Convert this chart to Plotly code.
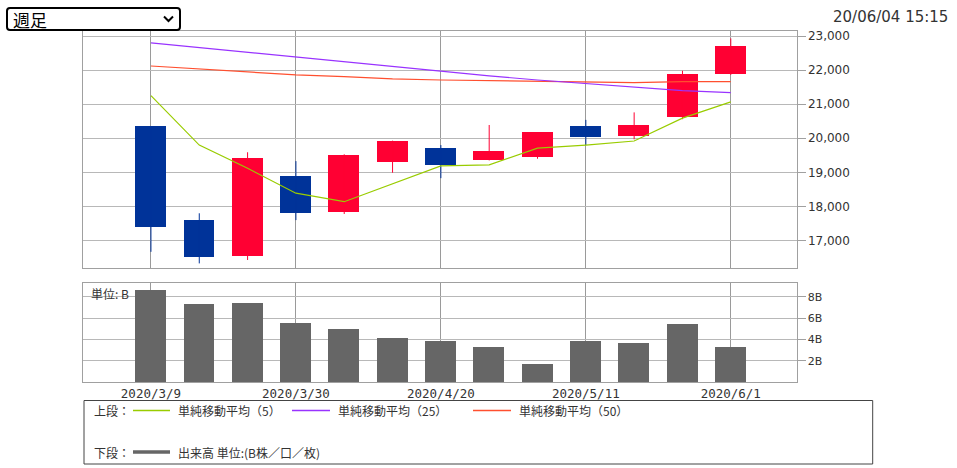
import plotly.graph_objects as go

W, H = 957, 468

# ---------------- data ----------------
weeks = ["2020/3/9", "2020/3/16", "2020/3/23", "2020/3/30", "2020/4/6", "2020/4/13",
         "2020/4/20", "2020/4/27", "2020/5/4", "2020/5/11", "2020/5/18", "2020/5/25", "2020/6/1"]
opens  = [20350, 17600, 16550, 18890, 17830, 19300, 19710, 19360, 19440, 20350, 20070, 20620, 21900]
highs  = [20350, 17800, 19590, 19330, 19530, 19930, 19800, 20390, 20180, 20540, 20760, 21980, 22930]
lows   = [16670, 16330, 16430, 17600, 17780, 18990, 18830, 19350, 19400, 19800, 19970, 20560, 21860]
closes = [17400, 16510, 19410, 17800, 19520, 19920, 19230, 19630, 20180, 20030, 20390, 21900, 22710]
ma5  = [21250, 19800, 19120, 18390, 18140, 18660, 19190, 19220, 19710, 19800, 19920, 20590, 21070]
ma25 = [22800, 22660, 22520, 22370, 22230, 22090, 21970, 21830, 21710, 21610, 21500, 21400, 21340]
ma50 = [22120, 22030, 21950, 21860, 21810, 21740, 21710, 21690, 21670, 21640, 21630, 21660, 21660]
volume_b = [8.63, 7.32, 7.44, 5.56, 4.97, 4.16, 3.82, 3.31, 1.69, 3.82, 3.69, 5.47, 3.31]

tick_labels = ["2020/3/9", "2020/3/30", "2020/4/20", "2020/5/11", "2020/6/1"]
price_ticks = [17000, 18000, 19000, 20000, 21000, 22000, 23000]
volume_ticks = [2, 4, 6, 8]
volume_tick_text = ["2B", "4B", "6B", "8B"]
ma_names = ["単純移動平均（5）", "単純移動平均（25）", "単純移動平均（50）"]
volume_name = "出来高 単位:(B株／口／枚)"
upper_label = "上段："
lower_label = "下段："
period_label = "週足"
timestamp = "20/06/04 15:15"
unit_label = "単位: B"

# ---------------- styles ----------------
RED, BLUE = "#ff0033", "#003399"
C_MA5, C_MA25, C_MA50 = "#99cc00", "#9933ff", "#ff4f2f"
C_VOL = "#666666"
FRAME = "#a0a0a0"
GRID_H = "#b8b8b8"
GRID_V = "#9a9a9a"
TXT = "#333333"
JP = "Noto Sans CJK JP"


def px(v):
    return v / W


def py(v):
    return 1 - v / H


x = list(range(len(weeks)))
up = [c >= o for o, c in zip(opens, closes)]

fig = go.Figure()

for flag, col in ((True, RED), (False, BLUE)):
    idx = [i for i in x if up[i] == flag]
    xs, ys = [], []
    for i in idx:
        xs += [i, i, None]
        ys += [lows[i], highs[i], None]
    fig.add_trace(go.Scatter(x=xs, y=ys, mode="lines", line=dict(color=col, width=1),
                             xaxis="x", yaxis="y", hoverinfo="skip", showlegend=False))
    fig.add_trace(go.Bar(x=idx,
                         base=[min(opens[i], closes[i]) for i in idx],
                         y=[abs(closes[i] - opens[i]) for i in idx],
                         width=0.64, marker=dict(color=col, line=dict(width=0)),
                         xaxis="x", yaxis="y", showlegend=False))

for vals, col in ((ma50, C_MA50), (ma25, C_MA25), (ma5, C_MA5)):
    fig.add_trace(go.Scatter(x=x, y=vals, mode="lines", line=dict(color=col, width=1.2),
                             xaxis="x", yaxis="y", showlegend=False))

fig.add_trace(go.Bar(x=x, y=volume_b, width=0.64, marker=dict(color=C_VOL, line=dict(width=0)),
                     xaxis="x2", yaxis="y2", showlegend=False))

xdom = [px(83.3), px(796.5)]
xr = [-1.40, 13.36]
tickpos = [weeks.index(t) for t in tick_labels]

common_x = dict(domain=xdom, range=xr, tickmode="array", tickvals=tickpos,
                showgrid=True, gridcolor=GRID_V, gridwidth=1.4, zeroline=False,
                showline=True, mirror=True, linecolor=FRAME, linewidth=1,
                fixedrange=True, automargin=False)

fig.update_layout(
    width=W, height=H,
    margin=dict(l=0, r=0, t=0, b=0),
    paper_bgcolor="white", plot_bgcolor="white",
    barmode="overlay", bargap=0,
    showlegend=False,
    xaxis=dict(**common_x, anchor="y", showticklabels=False, ticks=""),
    xaxis2=dict(**common_x, anchor="y2", matches="x", ticktext=tick_labels, ticks="",
                showticklabels=True,
                tickfont=dict(family="DejaVu Sans Mono", size=12.5, color=TXT)),
    yaxis=dict(domain=[py(268), py(31)], range=[16195, 23147], side="right",
               tickmode="array", tickvals=price_ticks, tickformat=",d",
               ticks="outside", ticklen=8, tickcolor=FRAME, tickwidth=1,
               tickfont=dict(family="DejaVu Sans", size=12, color=TXT),
               showgrid=True, gridcolor=GRID_H, gridwidth=1, zeroline=False,
               showline=True, mirror=True, linecolor=FRAME, linewidth=1,
               fixedrange=True, automargin=False),
    yaxis2=dict(domain=[py(382), py(283)], range=[0, 9.29], side="right",
                tickmode="array", tickvals=volume_ticks, ticktext=volume_tick_text,
                ticks="outside", ticklen=8, tickcolor=FRAME, tickwidth=1,
                tickfont=dict(family="DejaVu Sans", size=11, color=TXT),
                showgrid=True, gridcolor=GRID_H, gridwidth=1, zeroline=False,
                showline=True, mirror=True, linecolor=FRAME, linewidth=1,
                fixedrange=True, automargin=False),
)

shapes = []
annotations = []

# dropdown box
x0, y0, x1, y1, r = 7, 8, 180, 30, 3
path = (f"M {px(x0 + r)},{py(y0)} L {px(x1 - r)},{py(y0)} Q {px(x1)},{py(y0)} {px(x1)},{py(y0 + r)} "
        f"L {px(x1)},{py(y1 - r)} Q {px(x1)},{py(y1)} {px(x1 - r)},{py(y1)} "
        f"L {px(x0 + r)},{py(y1)} Q {px(x0)},{py(y1)} {px(x0)},{py(y1 - r)} "
        f"L {px(x0)},{py(y0 + r)} Q {px(x0)},{py(y0)} {px(x0 + r)},{py(y0)} Z")
shapes.append(dict(type="path", xref="paper", yref="paper", path=path,
                   line=dict(color="black", width=2), fillcolor="white"))
shapes.append(dict(type="path", xref="paper", yref="paper",
                   path=f"M {px(164)},{py(16.5)} L {px(168.5)},{py(21)} L {px(173)},{py(16.5)}",
                   line=dict(color="black", width=2)))
annotations.append(dict(text=period_label, x=px(11), y=py(19.5), xref="paper", yref="paper",
                        xanchor="left", yanchor="middle", showarrow=False,
                        font=dict(family=JP, size=17, color="black")))
annotations.append(dict(text=timestamp, x=px(950), y=py(17), xref="paper", yref="paper",
                        xanchor="right", yanchor="middle", showarrow=False,
                        font=dict(family="DejaVu Sans", size=15, color=TXT)))
annotations.append(dict(text=unit_label, x=px(89), y=py(293.5), xref="paper", yref="paper",
                        xanchor="left", yanchor="middle", showarrow=False,
                        font=dict(family=JP, size=12, color=TXT)))

# legend box
shapes.append(dict(type="rect", xref="paper", yref="paper",
                   x0=px(84), x1=px(872.7), y0=py(400.5), y1=py(464),
                   line=dict(color="#444444", width=1), fillcolor="white"))
row1, row2 = 410.5, 452
annotations.append(dict(text=upper_label, x=px(92), y=py(row1), xref="paper", yref="paper",
                        xanchor="left", yanchor="middle", showarrow=False,
                        font=dict(family=JP, size=12, color=TXT)))
annotations.append(dict(text=lower_label, x=px(92), y=py(row2), xref="paper", yref="paper",
                        xanchor="left", yanchor="middle", showarrow=False,
                        font=dict(family=JP, size=12, color=TXT)))
for (lx0, lx1, tx), col, name in zip(((133, 170, 176), (292, 330, 336), (473, 511, 517)),
                                      (C_MA5, C_MA25, C_MA50), ma_names):
    shapes.append(dict(type="line", xref="paper", yref="paper", x0=px(lx0), x1=px(lx1),
                       y0=py(row1), y1=py(row1), line=dict(color=col, width=1.3)))
    annotations.append(dict(text=name, x=px(tx), y=py(row1), xref="paper", yref="paper",
                            xanchor="left", yanchor="middle", showarrow=False,
                            font=dict(family=JP, size=12, color=TXT)))
shapes.append(dict(type="line", xref="paper", yref="paper", x0=px(133), x1=px(170),
                   y0=py(row2), y1=py(row2), line=dict(color=C_VOL, width=3.5)))
annotations.append(dict(text=volume_name, x=px(176), y=py(row2), xref="paper", yref="paper",
                        xanchor="left", yanchor="middle", showarrow=False,
                        font=dict(family=JP, size=12, color=TXT)))

fig.update_layout(shapes=shapes, annotations=annotations)

fig.write_html("out.html", config={"displayModeBar": False},
               post_script="document.body.style.margin='0px';")
